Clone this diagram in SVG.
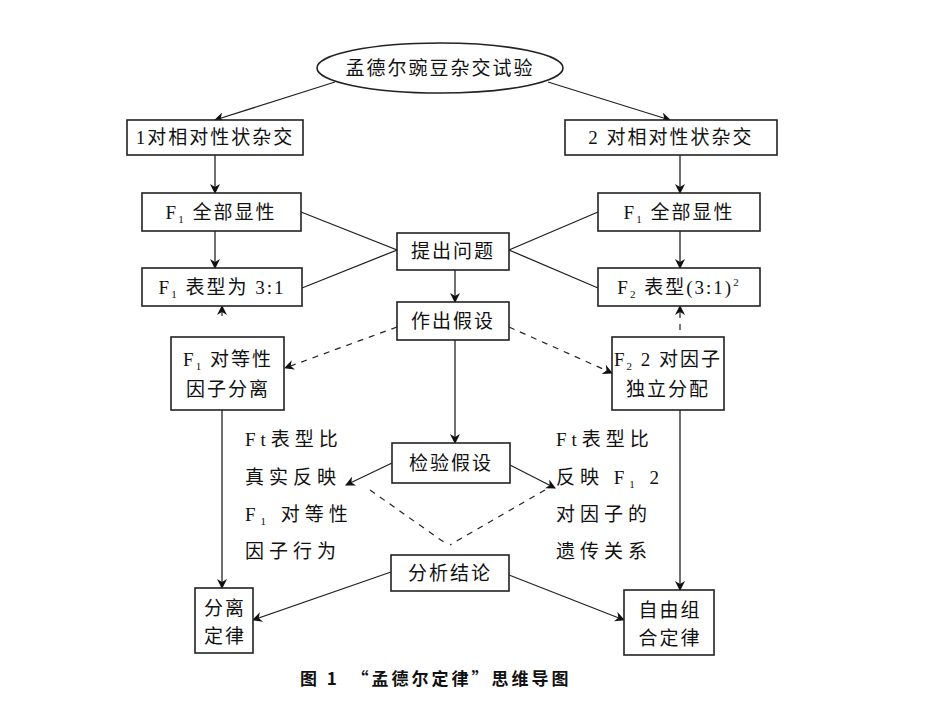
<svg xmlns="http://www.w3.org/2000/svg" width="950" height="713" viewBox="0 0 950 713">
<style>
.b{fill:#fff;stroke:#222;stroke-width:1.6}
text{font-family:"Liberation Serif","Noto Sans CJK SC",serif;font-size:19px;fill:#111;letter-spacing:2px}
.c{text-anchor:middle}
.w{letter-spacing:5px}
.l{stroke:#222;stroke-width:1.3;fill:none}
.d{stroke:#222;stroke-width:1.2;fill:none;stroke-dasharray:6 6}
</style>
<defs><marker id="a" markerWidth="10" markerHeight="10" refX="9" refY="5" orient="auto" markerUnits="userSpaceOnUse"><path d="M0,0 L10,5 L0,10 L3,5z" fill="#111"/></marker></defs>
<rect width="950" height="713" fill="#fff"/>
<g id="connectors">
<path class="l" d="M335,82 L215,120" marker-end="url(#a)"/>
<path class="l" d="M548,82 L670,120" marker-end="url(#a)"/>
<path class="l" d="M215,155V193" marker-end="url(#a)"/>
<path class="l" d="M215,231V268" marker-end="url(#a)"/>
<path class="l" d="M680,155V193" marker-end="url(#a)"/>
<path class="l" d="M680,231V268" marker-end="url(#a)"/>
<path class="l" d="M301,212L397,250L302,288"/>
<path class="l" d="M598,212L509,250L598,288"/>
<path class="l" d="M455,270V302" marker-end="url(#a)"/>
<path class="d" d="M397,327L285,368" marker-end="url(#a)"/>
<path class="d" d="M509,327L612,373" marker-end="url(#a)"/>
<path class="d" d="M222,316V306" marker-end="url(#a)"/>
<path class="d" d="M680,330V306" marker-end="url(#a)"/>
<path class="l" d="M455,340V443" marker-end="url(#a)"/>
<path class="l" d="M392,463L346,485" marker-end="url(#a)"/>
<path class="l" d="M510,465L555,488" marker-end="url(#a)"/>
<path class="d" d="M370,490L448,545"/>
<path class="d" d="M545,490L450,545"/>
<path class="l" d="M222,410V588" marker-end="url(#a)"/>
<path class="l" d="M680,410V590" marker-end="url(#a)"/>
<path class="l" d="M391,572L253,620" marker-end="url(#a)"/>
<path class="l" d="M509,575L624,620" marker-end="url(#a)"/>
</g>
<g id="n0"><ellipse class="b" cx="440" cy="68" rx="123" ry="25"/><text class="c" x="440" y="75">孟德尔豌豆杂交试验</text></g>
<g id="n1"><rect class="b" x="127" y="120" width="176" height="35"/><text class="c" x="215" y="144">1对相对性状杂交</text></g>
<g id="n2"><rect class="b" x="565" y="120" width="212" height="35"/><text class="c" x="671" y="144">2 对相对性状杂交</text></g>
<g id="n3"><rect class="b" x="142" y="193" width="159" height="38"/><text class="c" x="221" y="219">F<tspan font-size="11" dy="4">1</tspan><tspan dy="-4"> 全部显性</tspan></text></g>
<g id="n4"><rect class="b" x="142" y="268" width="160" height="38"/><text class="c" x="222" y="294">F<tspan font-size="11" dy="4">1</tspan><tspan dy="-4"> 表型为 3:1</tspan></text></g>
<g id="n5"><rect class="b" x="598" y="193" width="162" height="38"/><text class="c" x="679" y="219">F<tspan font-size="11" dy="4">1</tspan><tspan dy="-4"> 全部显性</tspan></text></g>
<g id="n6"><rect class="b" x="598" y="268" width="162" height="38"/><text class="c" x="679" y="294">F<tspan font-size="11" dy="4">2</tspan><tspan dy="-4"> 表型(3:1)</tspan><tspan font-size="11" dy="-8">2</tspan></text></g>
<g id="n7"><rect class="b" x="397" y="233" width="112" height="37"/><text class="c" x="453" y="258">提出问题</text></g>
<g id="n8"><rect class="b" x="397" y="302" width="112" height="38"/><text class="c" x="453" y="328">作出假设</text></g>
<g id="n9"><rect class="b" x="171" y="337" width="113" height="73"/><text class="c" x="228" y="366">F<tspan font-size="11" dy="4">1</tspan><tspan dy="-4"> 对等性</tspan></text><text class="c" x="228" y="396">因子分离</text></g>
<g id="n10"><rect class="b" x="612" y="337" width="112" height="73"/><text class="c" x="668" y="366">F<tspan font-size="11" dy="4">2</tspan><tspan dy="-4"> 2 对因子</tspan></text><text class="c" x="668" y="396">独立分配</text></g>
<g id="n11"><rect class="b" x="392" y="443" width="118" height="40"/><text class="c" x="451" y="470">检验假设</text></g>
<g id="t1"><text class="w" x="245" y="446">Ft表型比</text><text class="w" x="245" y="484">真实反映</text><text class="w" x="245" y="521">F<tspan font-size="11" dy="4">1</tspan><tspan dy="-4"> 对等性</tspan></text><text class="w" x="245" y="558">因子行为</text></g>
<g id="t2"><text class="w" x="556" y="446">Ft表型比</text><text class="w" x="556" y="484">反映 F<tspan font-size="11" dy="4">1</tspan><tspan dy="-4"> 2</tspan></text><text class="w" x="556" y="521">对因子的</text><text class="w" x="556" y="558">遗传关系</text></g>
<g id="n12"><rect class="b" x="391" y="555" width="118" height="36"/><text class="c" x="450" y="580">分析结论</text></g>
<g id="n13"><rect class="b" x="195" y="588" width="58" height="65"/><text class="c" x="225" y="615">分离</text><text class="c" x="225" y="643">定律</text></g>
<g id="n14"><rect class="b" x="624" y="590" width="90" height="65"/><text class="c" x="670" y="617">自由组</text><text class="c" x="670" y="645">合定律</text></g>
<text x="300" y="685" style="font-family:'Noto Sans CJK SC',sans-serif;font-weight:bold;font-size:17px;letter-spacing:3px">图 1　“孟德尔定律”思维导图</text>
</svg>
